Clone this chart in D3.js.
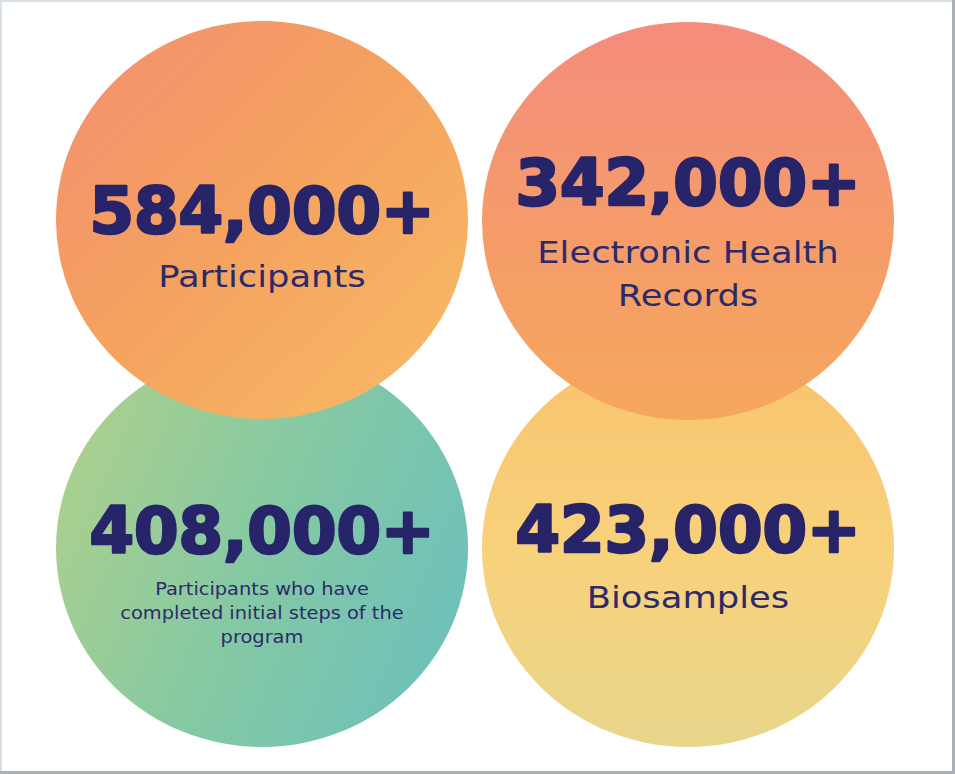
<!DOCTYPE html>
<html>
<head>
<meta charset="utf-8">
<script src="https://cdn.jsdelivr.net/npm/d3@7"></script>
<style>
    html, body { margin: 0; padding: 0; background: #fff; }
    svg { display: block; }
</style>
</head>
<body>
<svg id="chart"></svg>
<script>
// Stat values and captions
const statValues = [584000, 342000, 408000, 423000];
const statLabels = [
    ['Participants'],
    ['Electronic Health', 'Records'],
    ['Participants who have', 'completed initial steps of the', 'program'],
    ['Biosamples']
];
const gridCols = ['left', 'right', 'left', 'right'];
const gridRows = ['top', 'top', 'bottom', 'bottom'];

// Gradient colour stops for each bubble
const bubbleStops = [
    ['#F38E70', '#F5A35F', '#F8BC66'],
    ['#F48C7C', '#F59B6B', '#F6A75C'],
    ['#ABD08E', '#85C9A3', '#6DC0BB'],
    ['#F8C36E', '#F9D17B', '#E8D68B']
];
// gradient direction: diagonal, vertical, mostly horizontal, vertical
const gradientDirs = [[0, 0, 1, 1], [0, 0, 0, 1], [0, 0.3, 1, 0.7], [0, 0, 0, 1]];

// Layout tweaks (number baseline offset from centre, first caption line offset, line step, caption size)
const layout = [
    { num: 13, cap: 67, step: 0, size: 31 },
    { num: -16, cap: 42, step: 43, size: 31 },
    { num: 5, cap: 47, step: 24, size: 17 },
    { num: 4, cap: 60, step: 0, size: 31 }
];
const captionStretch = 1.14;  // Gotham-like wide glyphs

const width = 955;
const height = 774;
const textColor = '#272469';

const svg = d3.select('#chart')
    .attr('width', width)
    .attr('height', height);

const x = d3.scalePoint().domain(['left', 'right']).range([262, 688]);
const y = d3.scalePoint().domain(['top', 'bottom']).range([220, 548]);
const rx = 206;
const ry = 199;

const fmt = d3.format(',');

const data = statValues.map((v, i) => ({
    i,
    value: v,
    lines: statLabels[i],
    cx: x(gridCols[i]),
    cy: y(gridRows[i]) + (i === 1 ? 1 : 0),
    row: gridRows[i]
}));

// Gradients
const defs = svg.append('defs');
data.forEach(d => {
    const dir = gradientDirs[d.i];
    const g = defs.append('linearGradient')
        .attr('id', 'grad' + d.i)
        .attr('x1', dir[0]).attr('y1', dir[1])
        .attr('x2', dir[2]).attr('y2', dir[3]);
    bubbleStops[d.i].forEach((c, k, arr) => {
        g.append('stop')
            .attr('offset', k / (arr.length - 1))
            .attr('stop-color', c);
    });
});

// Bottom row first so the top bubbles overlap them
const ordered = data.filter(d => d.row === 'bottom').concat(data.filter(d => d.row === 'top'));

const cards = svg.selectAll('g.card')
    .data(ordered)
    .enter()
    .append('g')
    .attr('class', 'card');

cards.append('ellipse')
    .attr('cx', d => d.cx)
    .attr('cy', d => d.cy)
    .attr('rx', rx)
    .attr('ry', ry)
    .attr('fill', d => `url(#grad${d.i})`);

cards.append('text')
    .attr('x', d => d.cx)
    .attr('y', d => d.cy + layout[d.i].num)
    .attr('text-anchor', 'middle')
    .attr('font-family', '"DejaVu Sans", sans-serif')
    .attr('font-weight', 700)
    .attr('font-size', 64)
    .attr('fill', textColor)
    .attr('stroke', textColor)
    .attr('stroke-width', 2.6)
    .attr('stroke-linejoin', 'round')
    .text(d => fmt(d.value) + '+');

cards.each(function(d) {
    const l = layout[d.i];
    d3.select(this).selectAll('text.caption')
        .data(d.lines)
        .enter()
        .append('text')
        .attr('class', 'caption')
        .attr('x', d.cx)
        .attr('y', (t, k) => d.cy + l.cap + k * l.step)
        .attr('text-anchor', 'middle')
        .attr('font-family', '"DejaVu Sans", sans-serif')
        .attr('font-size', l.size)
        .attr('fill', '#2C2A6A')
        .text(t => t)
        .each(function() {
            // widen the glyphs a little instead of spacing letters out
            const w = this.getComputedTextLength();
            d3.select(this)
                .attr('textLength', w * captionStretch)
                .attr('lengthAdjust', 'spacingAndGlyphs');
        });
});

// Screenshot frame
svg.append('rect')
    .attr('x', 0).attr('y', 0)
    .attr('width', width).attr('height', 2)
    .attr('fill', '#D6DEE7');
svg.append('rect')
    .attr('x', 0).attr('y', 0)
    .attr('width', 2).attr('height', height)
    .attr('fill', '#D6DEE7');
svg.append('rect')
    .attr('x', width - 3).attr('y', 0)
    .attr('width', 3).attr('height', height)
    .attr('fill', '#AAB0B6');
svg.append('rect')
    .attr('x', 0).attr('y', height - 3)
    .attr('width', width).attr('height', 3)
    .attr('fill', '#AAB0B6');
</script>
</body>
</html>
